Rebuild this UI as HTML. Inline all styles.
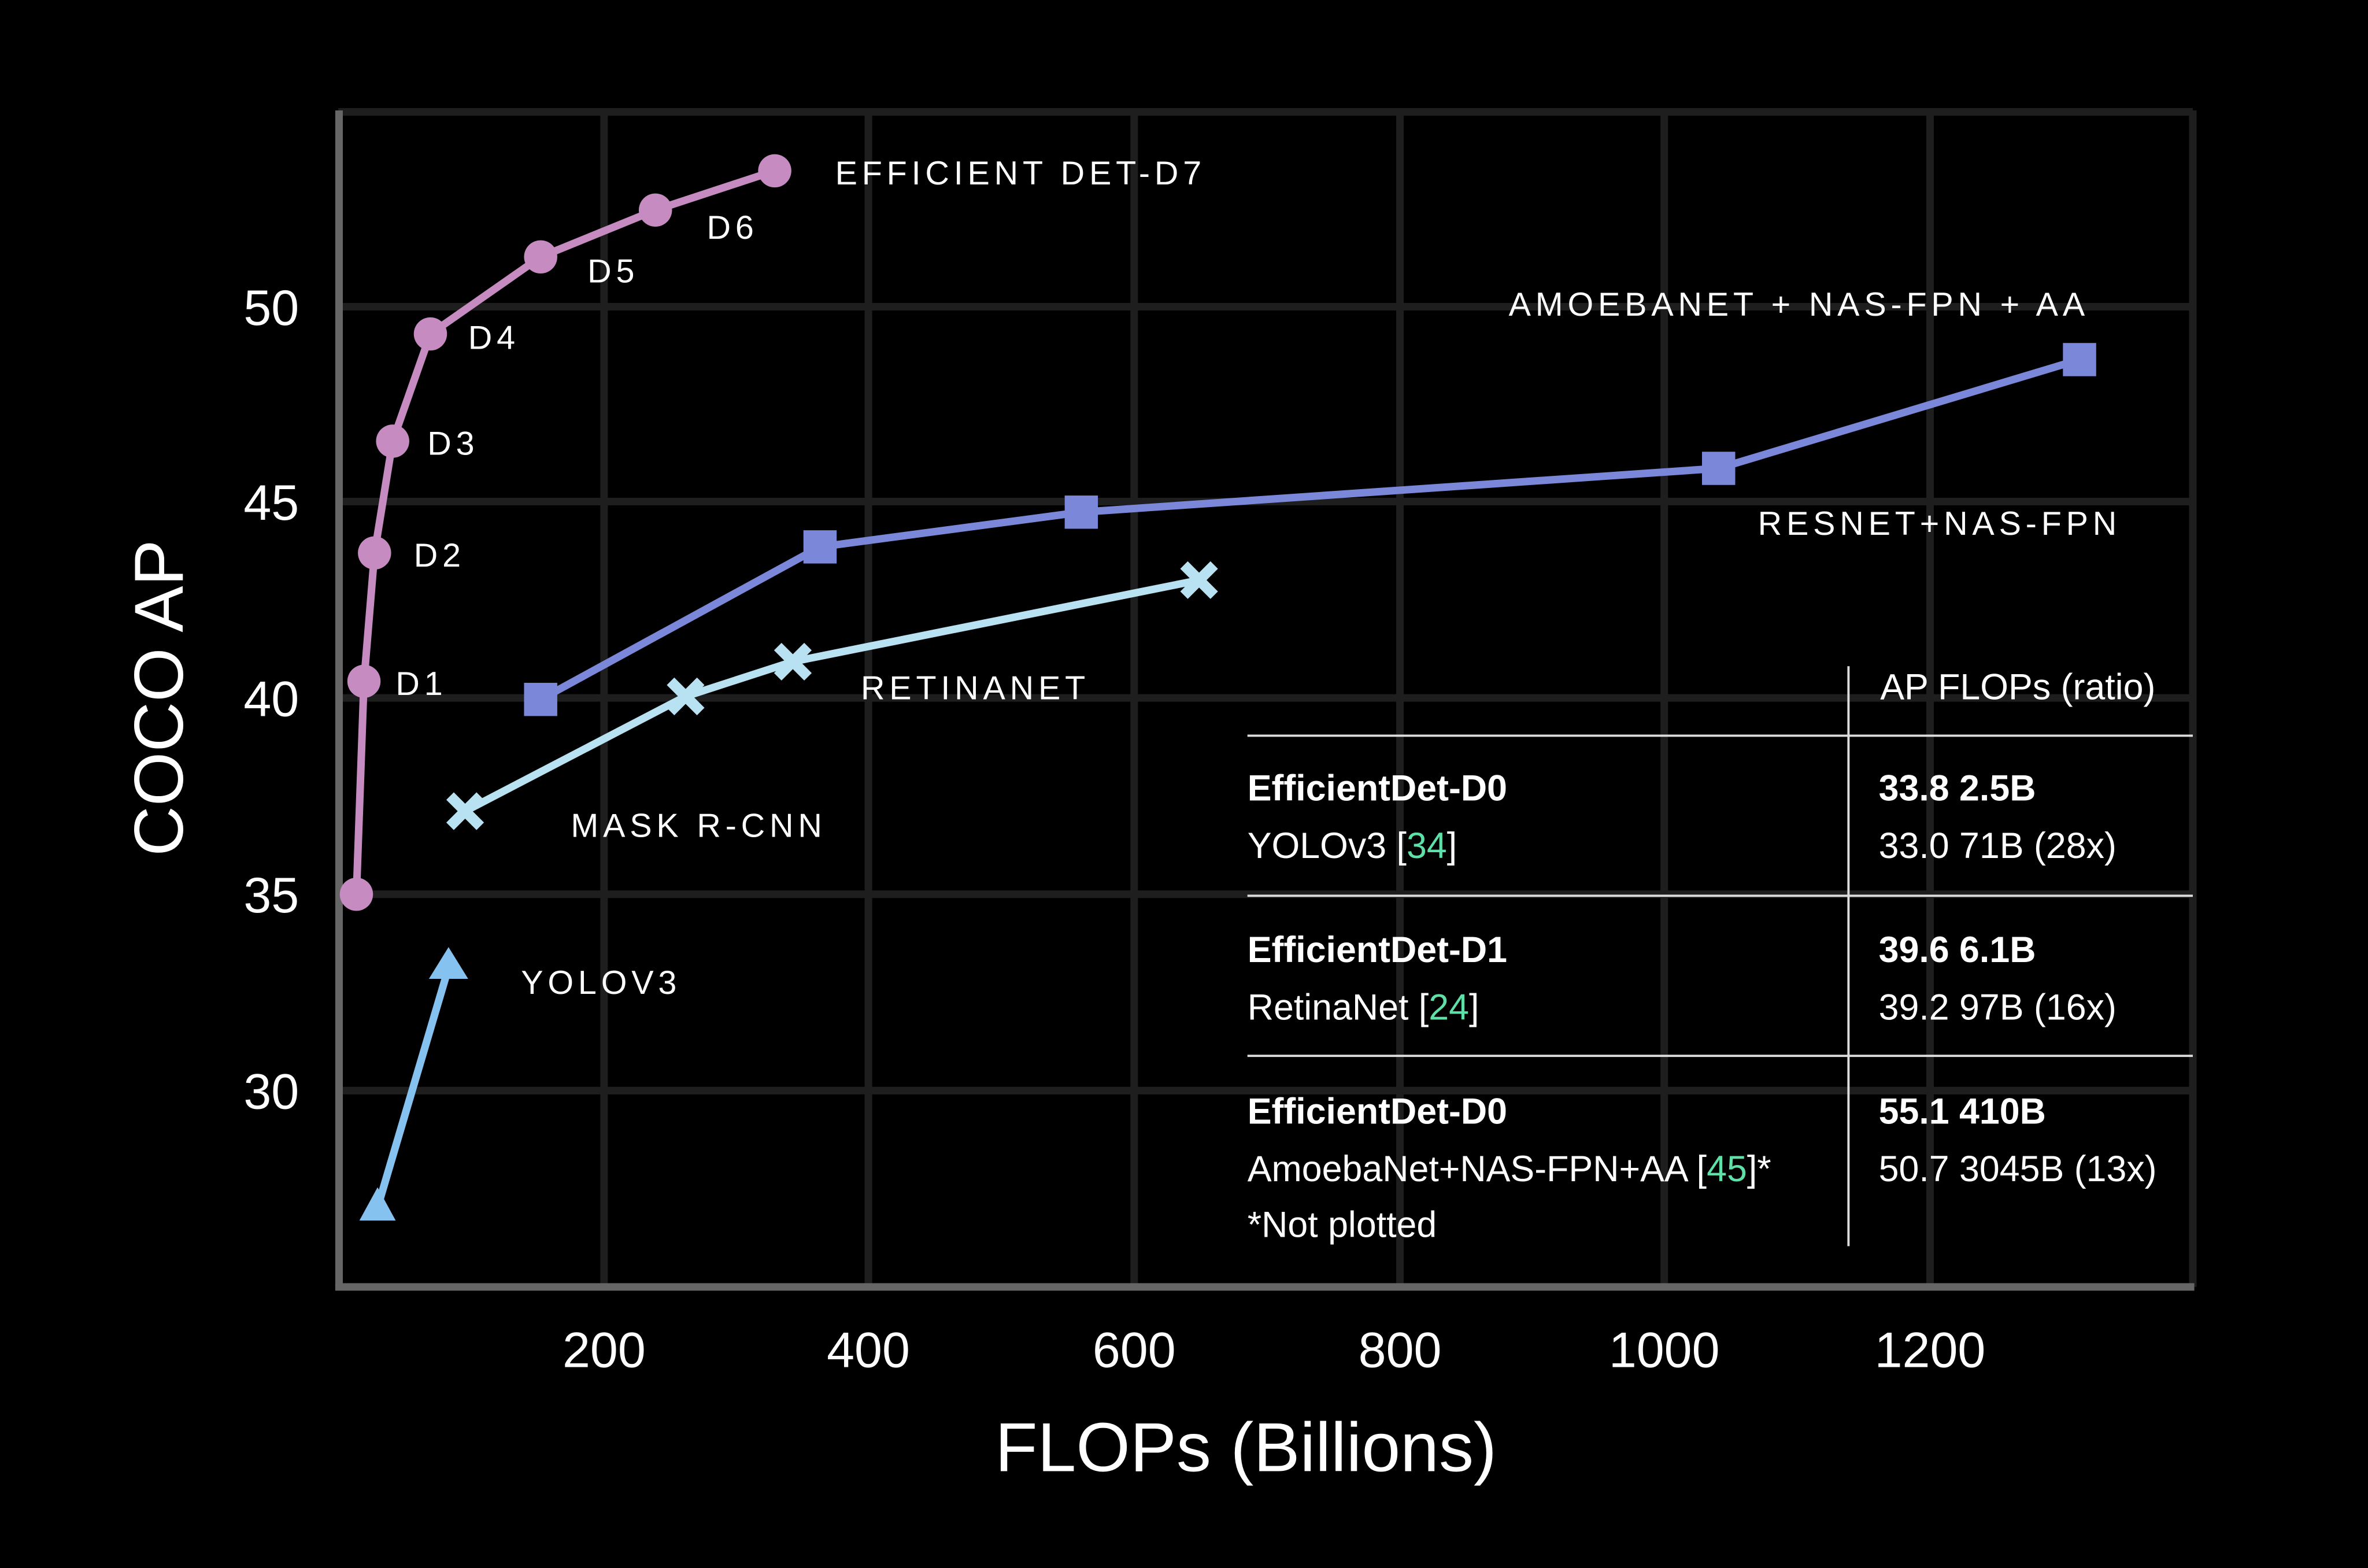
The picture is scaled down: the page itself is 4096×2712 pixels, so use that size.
<!DOCTYPE html>
<html><head><meta charset="utf-8"><style>html,body{margin:0;padding:0;background:#000}svg{display:block}</style></head>
<body>
<svg width="4096" height="2712" viewBox="0 0 1568 1038" xmlns="http://www.w3.org/2000/svg" font-family="Liberation Sans, sans-serif">
<rect width="1568" height="1038" fill="#000"/>
<g stroke="#1e1e1e" stroke-width="5">
<line x1="400" y1="73" x2="400" y2="852"/><line x1="575" y1="73" x2="575" y2="852"/><line x1="751" y1="73" x2="751" y2="852"/><line x1="927" y1="73" x2="927" y2="852"/><line x1="1102" y1="73" x2="1102" y2="852"/><line x1="1278" y1="73" x2="1278" y2="852"/><line x1="1452" y1="73" x2="1452" y2="852"/>
<line x1="224" y1="74" x2="1452" y2="74"/><line x1="224" y1="203" x2="1452" y2="203"/><line x1="224" y1="332" x2="1452" y2="332"/><line x1="224" y1="462" x2="1452" y2="462"/><line x1="224" y1="592" x2="1452" y2="592"/><line x1="224" y1="722" x2="1452" y2="722"/>
</g>
<line x1="224.5" y1="73" x2="224.5" y2="854" stroke="#666" stroke-width="5"/>
<line x1="222" y1="852" x2="1453" y2="852" stroke="#666" stroke-width="5"/>
<g fill="#fff" font-size="33" text-anchor="end">
<text x="198" y="215">50</text><text x="198" y="344">45</text><text x="198" y="474">40</text><text x="198" y="604">35</text><text x="198" y="734">30</text>
</g>
<g fill="#fff" font-size="33" text-anchor="middle">
<text x="400" y="905">200</text><text x="575" y="905">400</text><text x="751" y="905">600</text><text x="927" y="905">800</text><text x="1102" y="905">1000</text><text x="1278" y="905">1200</text>
</g>
<text x="825" y="974" fill="#fff" font-size="46" text-anchor="middle">FLOPs (Billions)</text>
<text transform="translate(121,462) rotate(-90)" fill="#fff" font-size="46" text-anchor="middle">COCO AP</text>
<!-- table -->
<g stroke="#ddd" stroke-width="1.5">
<line x1="1224" y1="441" x2="1224" y2="825"/>
<line x1="826" y1="487" x2="1452" y2="487"/><line x1="826" y1="593" x2="1452" y2="593"/><line x1="826" y1="699" x2="1452" y2="699"/>
</g>
<g fill="#fff" font-size="24">
<text x="1245" y="463">AP FLOPs (ratio)</text>
<text x="826" y="530" font-weight="bold">EfficientDet-D0</text>
<text x="826" y="568">YOLOv3 [<tspan fill="#5ee0a8">34</tspan>]</text>
<text x="826" y="637" font-weight="bold">EfficientDet-D1</text>
<text x="826" y="675">RetinaNet  [<tspan fill="#5ee0a8">24</tspan>]</text>
<text x="826" y="744" font-weight="bold">EfficientDet-D0</text>
<text x="826" y="782">AmoebaNet+NAS-FPN+AA [<tspan fill="#5ee0a8">45</tspan>]*</text>
<text x="826" y="819">*Not plotted</text>
<text x="1244" y="530" font-weight="bold">33.8 2.5B</text>
<text x="1244" y="568">33.0 71B (28x)</text>
<text x="1244" y="637" font-weight="bold">39.6 6.1B</text>
<text x="1244" y="675">39.2 97B (16x)</text>
<text x="1244" y="744" font-weight="bold">55.1 410B</text>
<text x="1244" y="782">50.7 3045B (13x)</text>
</g>
<!-- yolo -->
<line x1="251" y1="796" x2="296" y2="644" stroke="#86c2f0" stroke-width="5"/>
<polygon points="250,786 262,808 238,808" fill="#86c2f0"/>
<polygon points="297,627 310,648 284,648" fill="#86c2f0"/>
<!-- retinanet/mask -->
<polyline points="308,537 454,461 525,438 794,384" fill="none" stroke="#b8e2f2" stroke-width="5"/>
<g stroke="#b8e2f2" stroke-width="7">
<path d="M298,527 L318,547 M318,527 L298,547"/><path d="M444,451 L464,471 M464,451 L444,471"/><path d="M515,428 L535,448 M535,428 L515,448"/><path d="M784,374 L804,394 M804,374 L784,394"/>
</g>
<!-- amoeba -->
<polyline points="358,463 543,362 716,339 1138,310 1377,238" fill="none" stroke="#7b87d9" stroke-width="5"/>
<g fill="#7b87d9">
<rect x="347" y="452" width="22" height="22"/><rect x="532" y="351" width="22" height="22"/><rect x="705" y="328" width="22" height="22"/><rect x="1127" y="299" width="22" height="22"/><rect x="1366" y="227" width="22" height="22"/>
</g>
<!-- efficientdet -->
<polyline points="236,592 241,451 248,366 260,292 285,221 358,170 434,139 513,113" fill="none" stroke="#c68cc2" stroke-width="5"/>
<g fill="#c68cc2">
<circle cx="236" cy="592" r="11"/><circle cx="241" cy="451" r="11"/><circle cx="248" cy="366" r="11"/><circle cx="260" cy="292" r="11"/><circle cx="285" cy="221" r="11"/><circle cx="358" cy="170" r="11"/><circle cx="434" cy="139" r="11"/><circle cx="513" cy="113" r="11"/>
</g>
<g fill="#fff" font-size="22" letter-spacing="3">
<text x="262" y="460">D1</text><text x="274" y="375">D2</text><text x="283" y="301">D3</text><text x="310" y="231">D4</text><text x="389" y="187">D5</text><text x="468" y="158">D6</text>
<text x="553" y="122">EFFICIENT DET-D7</text>
<text x="999" y="209">AMOEBANET + NAS-FPN + AA</text>
<text x="1164" y="354">RESNET+NAS-FPN</text>
<text x="570" y="463">RETINANET</text>
<text x="378" y="554">MASK R-CNN</text>
<text x="345" y="658">YOLOV3</text>
</g>
</svg>
</body></html>
